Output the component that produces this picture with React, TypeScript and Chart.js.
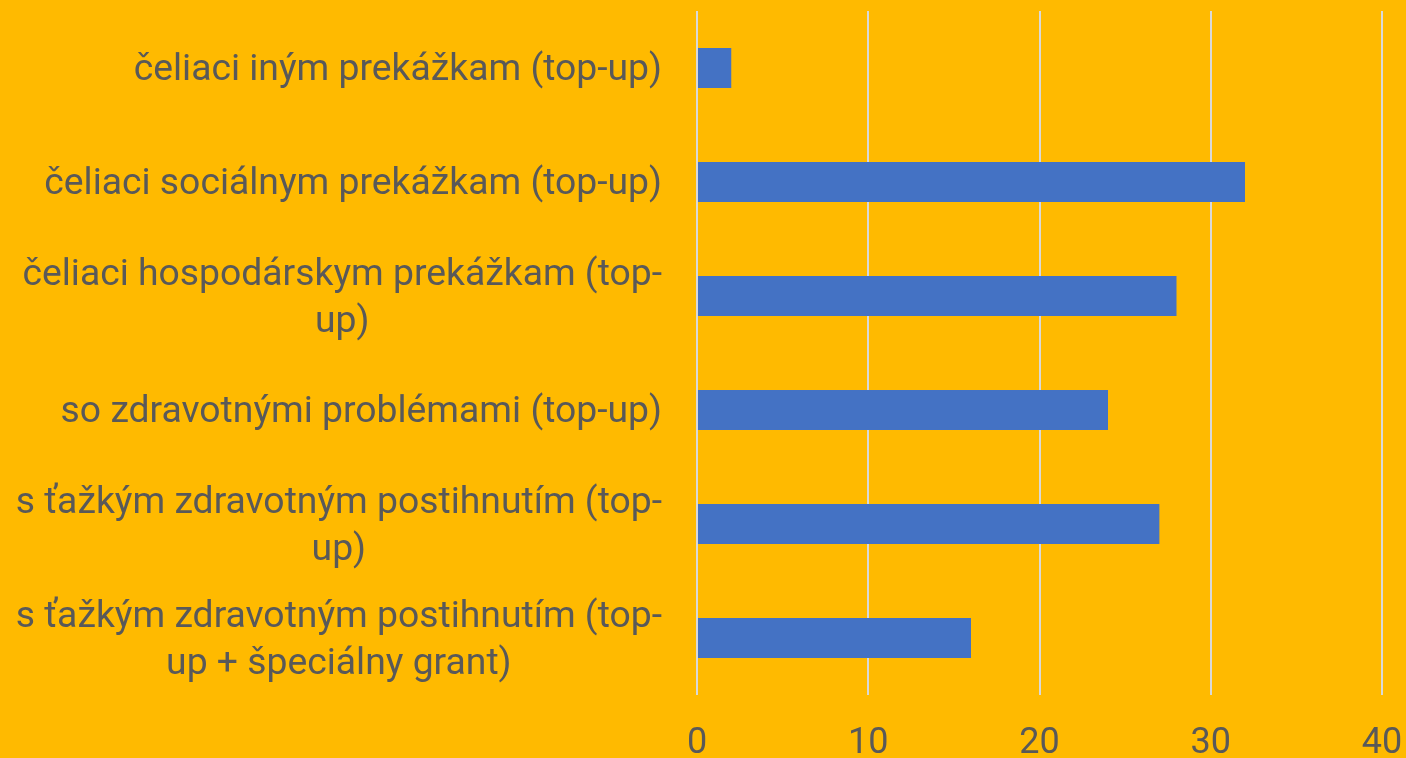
import React, { useEffect, useRef } from "react";
import { Chart, registerables } from "chart.js";

Chart.register(...registerables);

const categories: (string | string[])[] = [
  "čeliaci iným prekážkam (top-up)",
  "čeliaci sociálnym prekážkam (top-up)",
  ["čeliaci hospodárskym prekážkam (top-", "up)"],
  "so zdravotnými problémami (top-up)",
  ["s ťažkým zdravotným postihnutím (top-", "up)"],
  ["s ťažkým zdravotným postihnutím (top-", "up + špeciálny grant)"],
];
const values: number[] = [2, 32, 28, 24, 27, 16];
const xTicks: number[] = [0, 10, 20, 30, 40];

const BG = "#FFBA00";
const BAR = "#4472C4";
const TEXT = "#595959";
const GRID = "#D9D9D9";
const LABEL_FONT_SIZE = 37.3;
const LABEL_LINE_HEIGHT = 47;
const LABEL_GAP = 35;
const BASELINE_OFFSET = 12;

const centeredLabels = {
  id: "centeredLabels",
  afterDraw(chart: any) {
    const yScale = chart.scales.y;
    const ctx = chart.ctx as CanvasRenderingContext2D;
    ctx.save();
    ctx.font = `${LABEL_FONT_SIZE}px Roboto`;
    ctx.fillStyle = TEXT;
    ctx.textAlign = "center";
    ctx.textBaseline = "alphabetic";
    const right = yScale.right - LABEL_GAP;
    categories.forEach((label, i) => {
      const lines = Array.isArray(label) ? label : [label];
      const w = Math.max(...lines.map((l) => ctx.measureText(l).width));
      const cx = right - w / 2;
      const cy = yScale.getPixelForValue(i);
      lines.forEach((line, j) => {
        ctx.fillText(
          line,
          cx,
          cy + (j - (lines.length - 1) / 2) * LABEL_LINE_HEIGHT + BASELINE_OFFSET
        );
      });
    });
    ctx.restore();
  },
};

export default function App() {
  const ref = useRef<HTMLCanvasElement | null>(null);
  useEffect(() => {
    if (!ref.current) return;
    const chart = new Chart(ref.current, {
      type: "bar",
      data: {
        labels: categories,
        datasets: [
          {
            data: values,
            backgroundColor: BAR,
            borderWidth: 0,
            barPercentage: 0.351,
            categoryPercentage: 1,
          },
        ],
      },
      options: {
        indexAxis: "y",
        animation: false,
        responsive: false,
        maintainAspectRatio: false,
        layout: { padding: { top: 11, right: 24, left: 0, bottom: 0 } },
        plugins: { legend: { display: false }, tooltip: { enabled: false } },
        scales: {
          x: {
            min: 0,
            max: 40,
            afterBuildTicks: (scale: any) => {
              scale.ticks = xTicks.map((v) => ({ value: v }));
            },
            afterFit: (scale: any) => {
              scale.height = 63;
              scale.paddingLeft = 0;
              scale.paddingRight = 0;
            },
            grid: { color: GRID, lineWidth: 2, drawTicks: false },
            border: { display: false },
            ticks: {
              color: TEXT,
              padding: 27,
              font: { family: "Roboto", size: 36 },
            },
          },
          y: {
            afterFit: (scale: any) => {
              scale.width = 697;
              scale.paddingTop = 0;
              scale.paddingBottom = 0;
            },
            grid: { display: false, drawTicks: false },
            border: { display: false },
            ticks: { display: false },
          },
        },
      },
      plugins: [centeredLabels],
    });
    return () => chart.destroy();
  }, []);
  return (
    <div
      style={{
        position: "fixed",
        left: 0,
        top: 0,
        width: 1406,
        height: 758,
        background: BG,
      }}
    >
      <canvas ref={ref} width={1406} height={758} style={{ display: "block" }} />
    </div>
  );
}
